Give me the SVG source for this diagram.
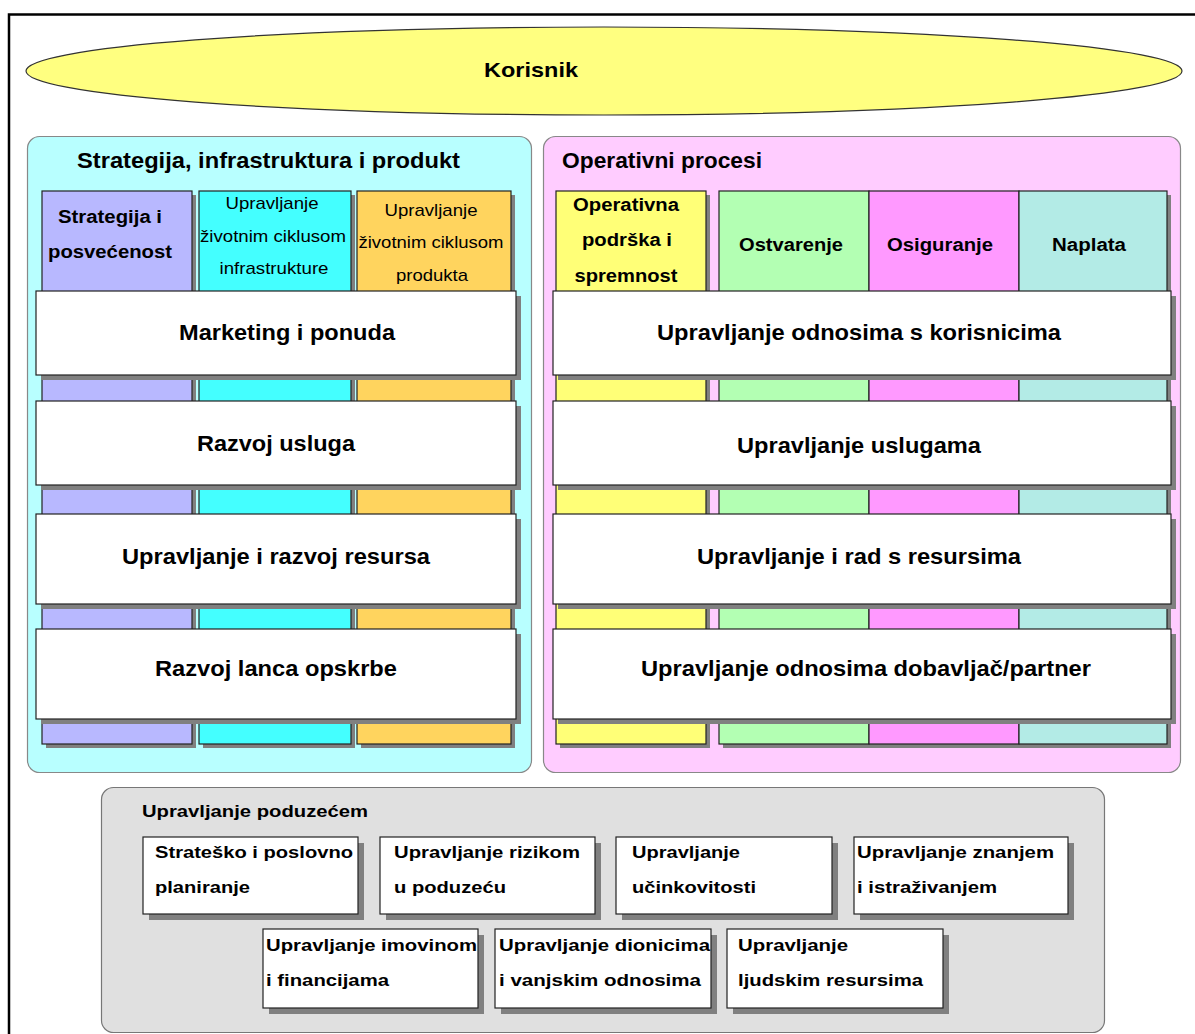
<svg xmlns="http://www.w3.org/2000/svg" width="1195" height="1034" viewBox="0 0 1195 1034">
<style>
text{font-family:"Liberation Sans",Arial,sans-serif;fill:#000}
.b{font-weight:bold}
.m{text-anchor:middle}
.sh{fill:#808080}
.ln{stroke:#222;stroke-width:1.2}
.bar{fill:#fff;stroke:#222;stroke-width:1.2}
.box{fill:#fff;stroke:#222;stroke-width:1.2}
</style>
<rect width="1195" height="1034" fill="#fff"/>
<rect x="9" y="14.5" width="1300" height="1200" fill="none" stroke="#000" stroke-width="2.5"/>

<g id="korisnik">
<ellipse cx="604" cy="71" rx="578" ry="44" fill="#ffff80" stroke="#333" stroke-width="1.2"/>
<text class="b m" x="531" y="77" font-size="21" textLength="94" lengthAdjust="spacingAndGlyphs">Korisnik</text>
</g>

<g id="strategija-panel">
<rect x="27.5" y="136.5" width="504" height="636" rx="12" fill="#b8ffff" stroke="#888" stroke-width="1.2"/>
<text class="b" x="77" y="168" font-size="22" textLength="383" lengthAdjust="spacingAndGlyphs">Strategija, infrastruktura i produkt</text>
</g>

<g id="operativni-panel">
<rect x="543.5" y="136.5" width="637" height="636" rx="12" fill="#ffccff" stroke="#888" stroke-width="1.2"/>
<text class="b" x="562" y="168" font-size="22" textLength="200" lengthAdjust="spacingAndGlyphs">Operativni procesi</text>
</g>

<g id="col-strategija">
<rect class="sh" x="46" y="195" width="150" height="553"/>
<rect class="ln" x="42" y="191" width="150" height="553" fill="#b8b8ff"/>
<text class="b m" x="110" y="223" font-size="18" textLength="104" lengthAdjust="spacingAndGlyphs">Strategija i</text>
<text class="b m" x="110" y="258" font-size="18" textLength="124" lengthAdjust="spacingAndGlyphs">posvećenost</text>
</g>
<g id="col-infrastruktura">
<rect class="sh" x="203" y="195" width="152" height="553"/>
<rect class="ln" x="199" y="191" width="152" height="553" fill="#44ffff"/>
<text class="m" x="272" y="209" font-size="17" textLength="93" lengthAdjust="spacingAndGlyphs">Upravljanje</text>
<text class="m" x="273" y="242" font-size="17" textLength="146" lengthAdjust="spacingAndGlyphs">životnim ciklusom</text>
<text class="m" x="274" y="274" font-size="17" textLength="109" lengthAdjust="spacingAndGlyphs">infrastrukture</text>
</g>
<g id="col-produkt">
<rect class="sh" x="361" y="195" width="154" height="553"/>
<rect class="ln" x="357" y="191" width="154" height="553" fill="#ffd45e"/>
<text class="m" x="431" y="216" font-size="17" textLength="93" lengthAdjust="spacingAndGlyphs">Upravljanje</text>
<text class="m" x="431" y="248" font-size="17" textLength="145" lengthAdjust="spacingAndGlyphs">životnim ciklusom</text>
<text class="m" x="432" y="281" font-size="17" textLength="72" lengthAdjust="spacingAndGlyphs">produkta</text>
</g>

<g id="col-operativna">
<rect class="sh" x="560" y="195" width="150" height="553"/>
<rect class="ln" x="556" y="191" width="150" height="553" fill="#ffff77"/>
<text class="b m" x="626" y="211" font-size="18" textLength="106" lengthAdjust="spacingAndGlyphs">Operativna</text>
<text class="b m" x="627" y="246" font-size="18" textLength="90" lengthAdjust="spacingAndGlyphs">podrška i</text>
<text class="b m" x="626" y="282" font-size="18" textLength="103" lengthAdjust="spacingAndGlyphs">spremnost</text>
</g>
<rect class="sh" x="723" y="195" width="448" height="553"/>
<g id="col-ostvarenje">
<rect class="ln" x="719" y="191" width="150" height="553" fill="#b3ffb3"/>
<text class="b m" x="791" y="251" font-size="18" textLength="104" lengthAdjust="spacingAndGlyphs">Ostvarenje</text>
</g>
<g id="col-osiguranje">
<rect class="ln" x="869" y="191" width="150" height="553" fill="#ff99ff"/>
<text class="b m" x="940" y="251" font-size="18" textLength="106" lengthAdjust="spacingAndGlyphs">Osiguranje</text>
</g>
<g id="col-naplata">
<rect class="ln" x="1019" y="191" width="148" height="553" fill="#b3ebe6"/>
<text class="b m" x="1089" y="251" font-size="18" textLength="74" lengthAdjust="spacingAndGlyphs">Naplata</text>
</g>

<g id="bar-marketing">
<rect class="sh" x="41" y="296" width="480" height="84"/>
<rect class="bar" x="36" y="291" width="480" height="84"/>
<text class="b m" x="287" y="340" font-size="22" textLength="216" lengthAdjust="spacingAndGlyphs">Marketing i ponuda</text>
</g>
<g id="bar-razvoj-usluga">
<rect class="sh" x="41" y="406" width="480" height="84"/>
<rect class="bar" x="36" y="401" width="480" height="84"/>
<text class="b m" x="276" y="451" font-size="22" textLength="158" lengthAdjust="spacingAndGlyphs">Razvoj usluga</text>
</g>
<g id="bar-resursi">
<rect class="sh" x="41" y="519" width="480" height="90"/>
<rect class="bar" x="36" y="514" width="480" height="90"/>
<text class="b m" x="276" y="564" font-size="22" textLength="308" lengthAdjust="spacingAndGlyphs">Upravljanje i razvoj resursa</text>
</g>
<g id="bar-lanac">
<rect class="sh" x="41" y="634" width="480" height="90"/>
<rect class="bar" x="36" y="629" width="480" height="90"/>
<text class="b m" x="276" y="676" font-size="22" textLength="242" lengthAdjust="spacingAndGlyphs">Razvoj lanca opskrbe</text>
</g>

<g id="bar-korisnici">
<rect class="sh" x="558" y="296" width="618" height="84"/>
<rect class="bar" x="553" y="291" width="618" height="84"/>
<text class="b m" x="859" y="340" font-size="22" textLength="404" lengthAdjust="spacingAndGlyphs">Upravljanje odnosima s korisnicima</text>
</g>
<g id="bar-usluge">
<rect class="sh" x="558" y="406" width="618" height="84"/>
<rect class="bar" x="553" y="401" width="618" height="84"/>
<text class="b m" x="859" y="453" font-size="22" textLength="244" lengthAdjust="spacingAndGlyphs">Upravljanje uslugama</text>
</g>
<g id="bar-rad-resursi">
<rect class="sh" x="558" y="519" width="618" height="90"/>
<rect class="bar" x="553" y="514" width="618" height="90"/>
<text class="b m" x="859" y="564" font-size="22" textLength="324" lengthAdjust="spacingAndGlyphs">Upravljanje i rad s resursima</text>
</g>
<g id="bar-dobavljac">
<rect class="sh" x="558" y="634" width="618" height="90"/>
<rect class="bar" x="553" y="629" width="618" height="90"/>
<text class="b m" x="866" y="676" font-size="22" textLength="450" lengthAdjust="spacingAndGlyphs">Upravljanje odnosima dobavljač/partner</text>
</g>

<g id="poduzece-panel">
<rect x="101.5" y="787.5" width="1003" height="245" rx="12" fill="#e0e0e0" stroke="#777" stroke-width="1.2"/>
<text class="b" x="142" y="817" font-size="17" textLength="226" lengthAdjust="spacingAndGlyphs">Upravljanje poduzećem</text>
</g>

<g id="box-strateski">
<rect class="sh" x="149" y="843" width="215" height="77"/>
<rect class="box" x="143" y="837" width="215" height="77"/>
<text class="b" x="155" y="858" font-size="17" textLength="198" lengthAdjust="spacingAndGlyphs">Strateško i poslovno</text>
<text class="b" x="155" y="893" font-size="17" textLength="95" lengthAdjust="spacingAndGlyphs">planiranje</text>
</g>
<g id="box-rizik">
<rect class="sh" x="386" y="843" width="215" height="77"/>
<rect class="box" x="380" y="837" width="215" height="77"/>
<text class="b" x="394" y="858" font-size="17" textLength="186" lengthAdjust="spacingAndGlyphs">Upravljanje rizikom</text>
<text class="b" x="394" y="893" font-size="17" textLength="112" lengthAdjust="spacingAndGlyphs">u poduzeću</text>
</g>
<g id="box-ucinkovitost">
<rect class="sh" x="622" y="843" width="216" height="77"/>
<rect class="box" x="616" y="837" width="216" height="77"/>
<text class="b" x="632" y="858" font-size="17" textLength="108" lengthAdjust="spacingAndGlyphs">Upravljanje</text>
<text class="b" x="632" y="893" font-size="17" textLength="124" lengthAdjust="spacingAndGlyphs">učinkovitosti</text>
</g>
<g id="box-znanje">
<rect class="sh" x="860" y="843" width="214" height="77"/>
<rect class="box" x="854" y="837" width="214" height="77"/>
<text class="b" x="857" y="858" font-size="17" textLength="197" lengthAdjust="spacingAndGlyphs">Upravljanje znanjem</text>
<text class="b" x="857" y="893" font-size="17" textLength="140" lengthAdjust="spacingAndGlyphs">i istraživanjem</text>
</g>
<g id="box-imovina">
<rect class="sh" x="269" y="935" width="215" height="79"/>
<rect class="box" x="263" y="929" width="215" height="79"/>
<text class="b" x="266" y="951" font-size="17" textLength="211" lengthAdjust="spacingAndGlyphs">Upravljanje imovinom</text>
<text class="b" x="266" y="986" font-size="17" textLength="123" lengthAdjust="spacingAndGlyphs">i financijama</text>
</g>
<g id="box-dionici">
<rect class="sh" x="501" y="935" width="216" height="79"/>
<rect class="box" x="495" y="929" width="216" height="79"/>
<text class="b" x="499" y="951" font-size="17" textLength="211" lengthAdjust="spacingAndGlyphs">Upravljanje dionicima</text>
<text class="b" x="499" y="986" font-size="17" textLength="202" lengthAdjust="spacingAndGlyphs">i vanjskim odnosima</text>
</g>
<g id="box-ljudski">
<rect class="sh" x="733" y="935" width="216" height="79"/>
<rect class="box" x="727" y="929" width="216" height="79"/>
<text class="b" x="738" y="951" font-size="17" textLength="110" lengthAdjust="spacingAndGlyphs">Upravljanje</text>
<text class="b" x="738" y="986" font-size="17" textLength="185" lengthAdjust="spacingAndGlyphs">ljudskim resursima</text>
</g>

<g id="connectors"></g>
</svg>
